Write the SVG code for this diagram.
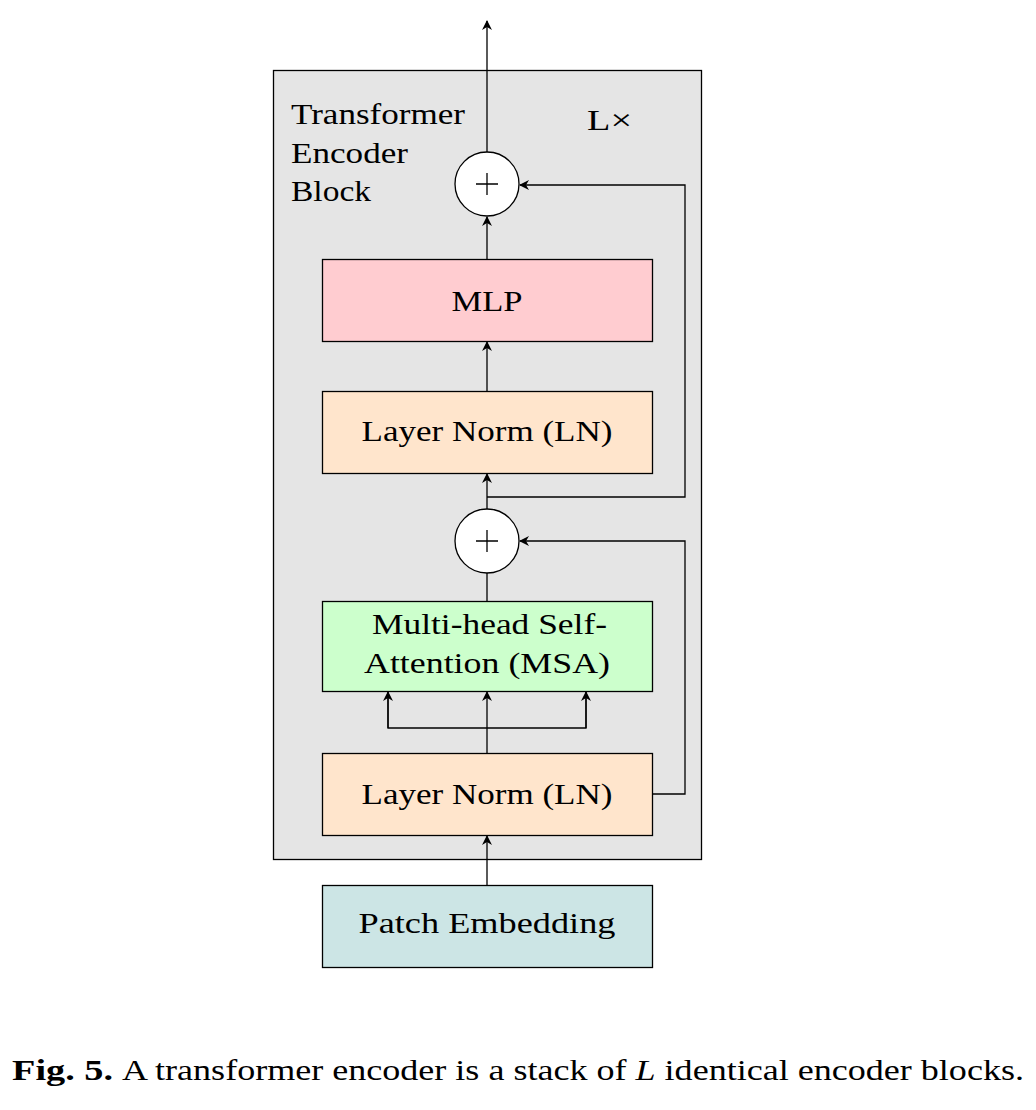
<svg xmlns="http://www.w3.org/2000/svg" width="1036" height="1110" viewBox="0 0 1036 1110">
<defs>
<marker id="ah" viewBox="0 0 10 10" refX="9" refY="5" markerWidth="10" markerHeight="10" markerUnits="userSpaceOnUse" orient="auto">
<path d="M0,0 L10,5 L0,10 L3,5 Z" fill="#000"/>
</marker>
</defs>
<style>
.box{stroke:#000;stroke-width:1.3}
.t{font-family:"Liberation Serif","DejaVu Serif",serif;font-size:29px;fill:#000}
.c{text-anchor:middle}
.ln{fill:none;stroke:#000;stroke-width:1.3}
</style>
<rect width="1036" height="1110" fill="#fff"/>
<g id="block">
<rect x="273.5" y="70.5" width="428" height="789" fill="#e5e5e5" class="box"/>
<text class="t" x="291" y="124" textLength="174" lengthAdjust="spacingAndGlyphs">Transformer</text>
<text class="t" x="291" y="163" textLength="117" lengthAdjust="spacingAndGlyphs">Encoder</text>
<text class="t" x="291" y="201" textLength="80" lengthAdjust="spacingAndGlyphs">Block</text>
<text class="t" x="587" y="130" textLength="45" lengthAdjust="spacingAndGlyphs">L×</text>
</g>
<g id="connectors">
<line class="ln" x1="487" y1="152" x2="487" y2="21" marker-end="url(#ah)"/>
<line class="ln" x1="487" y1="259" x2="487" y2="217" marker-end="url(#ah)"/>
<line class="ln" x1="487" y1="391" x2="487" y2="342" marker-end="url(#ah)"/>
<line class="ln" x1="487" y1="509" x2="487" y2="474" marker-end="url(#ah)"/>
<polyline class="ln" points="487,497 685,497 685,185 520,185" marker-end="url(#ah)"/>
<line class="ln" x1="487" y1="573" x2="487" y2="601"/>
<polyline class="ln" points="652,794 685,794 685,541 520,541" marker-end="url(#ah)"/>
<line class="ln" x1="487" y1="753" x2="487" y2="692" marker-end="url(#ah)"/>
<polyline class="ln" points="388,692 388,728 586,728 586,692"/>
<line class="ln" x1="388" y1="728" x2="388" y2="692" marker-end="url(#ah)"/>
<line class="ln" x1="586" y1="728" x2="586" y2="692" marker-end="url(#ah)"/>
<line class="ln" x1="487" y1="885" x2="487" y2="836" marker-end="url(#ah)"/>
</g>
<g id="add1">
<circle cx="487" cy="184" r="32" fill="#fff" class="box"/>
<path d="M476,184 H498 M487,173 V195" class="ln"/>
</g>
<g id="mlp">
<rect x="322.5" y="259.5" width="330" height="82" fill="#ffccd0" class="box"/>
<text class="t c" x="487" y="311" textLength="71" lengthAdjust="spacingAndGlyphs">MLP</text>
</g>
<g id="ln2">
<rect x="322.5" y="391.5" width="330" height="82" fill="#ffe5cc" class="box"/>
<text class="t c" x="487" y="441" textLength="251" lengthAdjust="spacingAndGlyphs">Layer Norm (LN)</text>
</g>
<g id="add2">
<circle cx="487" cy="541" r="32" fill="#fff" class="box"/>
<path d="M476,541 H498 M487,530 V552" class="ln"/>
</g>
<g id="msa">
<rect x="322.5" y="601.5" width="330" height="90" fill="#ccffcc" class="box"/>
<text class="t c" x="489.5" y="634" textLength="235" lengthAdjust="spacingAndGlyphs">Multi-head Self-</text>
<text class="t c" x="487" y="673" textLength="246" lengthAdjust="spacingAndGlyphs">Attention (MSA)</text>
</g>
<g id="ln1">
<rect x="322.5" y="753.5" width="330" height="82" fill="#ffe5cc" class="box"/>
<text class="t c" x="487" y="804" textLength="251" lengthAdjust="spacingAndGlyphs">Layer Norm (LN)</text>
</g>
<g id="patch">
<rect x="322.5" y="885.5" width="330" height="82" fill="#cce5e5" class="box"/>
<text class="t c" x="487" y="933" textLength="257" lengthAdjust="spacingAndGlyphs">Patch Embedding</text>
</g>
<g id="caption">
<text class="t" x="12" y="1080" textLength="101" lengthAdjust="spacingAndGlyphs" font-weight="bold">Fig. 5.</text>
<text class="t" x="122" y="1080" textLength="902" lengthAdjust="spacingAndGlyphs">A transformer encoder is a stack of <tspan font-style="italic">L</tspan> identical encoder blocks.</text>
</g>
</svg>
